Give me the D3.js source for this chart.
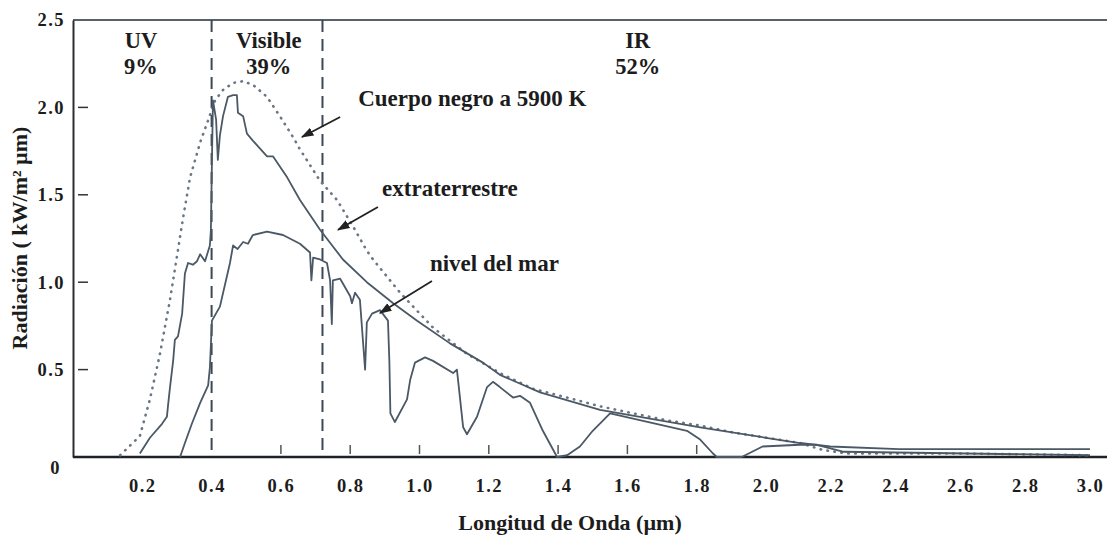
<!DOCTYPE html>
<html>
<head>
<meta charset="utf-8">
<script src="https://cdn.jsdelivr.net/npm/d3@7"></script>
<style>
  body { margin: 0; background: #fff; }
  svg text { font-family: "Liberation Serif", "Times New Roman", serif; font-weight: bold; fill: #1c1c1c; }
  .tick-lab { font-size: 18.5px; letter-spacing: 1.5px; }
</style>
</head>
<body>
<div class="js-chart"></div>
<script>
// Tick values
const xTicks = [0.2, 0.4, 0.6, 0.8, 1.0, 1.2, 1.4, 1.6, 1.8, 2.0, 2.2, 2.4, 2.6, 2.8, 3.0];
const xInnerTicks = [0.6, 0.8, 1.0, 1.2, 1.4, 1.6, 1.8];
const yTicks = [0, 0.5, 1.0, 1.5, 2.0, 2.5];

// Boundaries UV / Visible / IR (um)
const bandLimits = [0.4, 0.72];

// Cuerpo negro a 5900 K
const bbWave = [0.136, 0.193, 0.222, 0.251, 0.280, 0.297, 0.317, 0.338, 0.367, 0.387, 0.410, 0.433, 0.462, 0.490, 0.519, 0.560, 0.597, 0.635, 0.655, 0.713, 0.762, 0.808, 0.848, 0.866, 0.944, 1.039, 1.137, 1.232, 1.328, 1.426, 1.521, 1.616, 1.714, 1.810, 1.905, 2.003, 2.105, 2.176, 2.25, 2.6, 3.0];
const bbRad  = [0.01, 0.12, 0.33, 0.59, 0.90, 1.11, 1.36, 1.60, 1.80, 1.91, 2.04, 2.10, 2.14, 2.15, 2.13, 2.06, 1.95, 1.83, 1.76, 1.58, 1.47, 1.32, 1.18, 1.13, 0.94, 0.74, 0.59, 0.48, 0.39, 0.34, 0.29, 0.25, 0.21, 0.18, 0.14, 0.11, 0.08, 0.04, 0.02, 0.02, 0.01];

// extraterrestre
const extWave = [0.193, 0.222, 0.257, 0.271, 0.274, 0.280, 0.289, 0.294, 0.303, 0.315, 0.323, 0.332, 0.346, 0.358, 0.367, 0.381, 0.395, 0.398, 0.401, 0.404, 0.413, 0.418, 0.424, 0.433, 0.447, 0.462, 0.473, 0.476, 0.491, 0.502, 0.519, 0.560, 0.577, 0.618, 0.655, 0.713, 0.779, 0.848, 0.924, 0.993, 1.088, 1.183, 1.232, 1.348, 1.521, 1.665, 1.810, 2.0, 2.105, 2.198, 2.41, 3.0];
const extRad  = [0.02, 0.11, 0.19, 0.23, 0.29, 0.40, 0.55, 0.67, 0.69, 0.82, 1.05, 1.11, 1.10, 1.12, 1.16, 1.12, 1.21, 1.30, 1.70, 2.04, 1.93, 1.70, 1.84, 1.95, 2.06, 2.07, 2.07, 1.97, 1.95, 1.85, 1.81, 1.72, 1.72, 1.60, 1.47, 1.30, 1.13, 1.00, 0.88, 0.78, 0.65, 0.54, 0.47, 0.37, 0.27, 0.22, 0.17, 0.11, 0.08, 0.06, 0.045, 0.045];

// nivel del mar
const seaWave = [0.309, 0.323, 0.343, 0.367, 0.390, 0.395, 0.401, 0.424, 0.453, 0.462, 0.475, 0.491, 0.505, 0.519, 0.560, 0.606, 0.655, 0.684, 0.688, 0.693, 0.713, 0.733, 0.742, 0.747, 0.750, 0.771, 0.800, 0.805, 0.814, 0.828, 0.843, 0.848, 0.863, 0.886, 0.909, 0.913, 0.916, 0.929, 0.964, 0.973, 0.987, 1.016, 1.039, 1.097, 1.108, 1.126, 1.137, 1.166, 1.195, 1.212, 1.232, 1.270, 1.290, 1.319, 1.356, 1.397, 1.426, 1.463, 1.500, 1.550, 1.772, 1.810, 1.847, 1.858, 1.930, 1.990, 2.105, 2.157, 2.240, 2.620, 3.0];
const seaRad  = [0, 0.08, 0.19, 0.31, 0.41, 0.51, 0.78, 0.86, 1.11, 1.21, 1.19, 1.23, 1.22, 1.27, 1.29, 1.27, 1.22, 1.17, 1.01, 1.14, 1.13, 1.11, 1.01, 0.76, 1.01, 1.02, 0.92, 0.88, 0.94, 0.90, 0.50, 0.77, 0.82, 0.84, 0.78, 0.55, 0.25, 0.20, 0.33, 0.44, 0.54, 0.57, 0.55, 0.48, 0.50, 0.17, 0.13, 0.23, 0.40, 0.43, 0.40, 0.34, 0.35, 0.31, 0.15, 0, 0.01, 0.06, 0.15, 0.25, 0.15, 0.10, 0.02, 0, 0, 0.06, 0.07, 0.07, 0.03, 0.02, 0.01];

// Labels
const bandNames = ['UV', 'Visible', 'IR'];
const bandShares = ['9%', '39%', '52%'];
const bandCenters = [0.196, 0.565, 1.63];
const curveNames = ['Cuerpo negro a 5900 K', 'extraterrestre', 'nivel del mar'];
const curveLabelAt = [[0.823, 2.008], [0.892, 1.493], [1.030, 1.064]];
const arrowFrom = [[0.771, 1.945], [0.880, 1.43], [1.036, 1.007]];
const arrowTo   = [[0.661, 1.831], [0.765, 1.30], [0.886, 0.824]];

const WIDTH = 1107, HEIGHT = 544;

const svg = d3.select('.js-chart').append('svg')
  .attr('width', WIDTH).attr('height', HEIGHT);

// scanned figure is slightly compressed beyond 2.0
const xScale = d3.scaleLinear().domain([0, 2, 3]).range([73, 766, 1090]);
const yScale = d3.scaleLinear().domain([0, 2.5]).range([457, 20]);

svg.append('defs').append('marker')
  .attr('id', 'arrow').attr('viewBox', '0 0 10 10')
  .attr('refX', 9).attr('refY', 5)
  .attr('markerWidth', 7).attr('markerHeight', 7)
  .attr('orient', 'auto')
  .append('path').attr('d', 'M0,1.5 L10,5 L0,8.5 Z').attr('fill', '#222');

// frame: top line and left axis
svg.append('line')
  .attr('x1', xScale(0)).attr('x2', WIDTH)
  .attr('y1', yScale(2.5)).attr('y2', yScale(2.5))
  .attr('stroke', '#56616c').attr('stroke-width', 2);

const yAxis = d3.axisLeft(yScale).tickValues(yTicks)
  .tickSize(0).tickPadding(8)
  .tickFormat(d => d === 0 ? '0' : d3.format('.1f')(d));
const gy = svg.append('g').attr('transform', `translate(${xScale(0)},0)`).call(yAxis);
gy.select('.domain').attr('stroke', '#2b2f33').attr('stroke-width', 2);
gy.selectAll('text').attr('class', 'tick-lab').attr('fill', '#1c1c1c')
  .attr('dy', d => d === 0 ? '0.9em' : '0.32em')
  .attr('x', d => d === 0 ? -12 : -8);

// inner y tick marks
svg.append('g').selectAll('line')
  .data(yTicks.filter(d => d > 0 && d < 2.5))
  .join('line')
  .attr('x1', xScale(0) + 5).attr('x2', xScale(0) + 15)
  .attr('y1', d => yScale(d)).attr('y2', d => yScale(d))
  .attr('stroke', '#333').attr('stroke-width', 1.5);

// x axis
const xAxis = d3.axisBottom(xScale).tickValues(xTicks)
  .tickSize(0).tickPadding(22)
  .tickFormat(d3.format('.1f'));
const gx = svg.append('g').attr('transform', `translate(0,${yScale(0)})`).call(xAxis);
gx.select('.domain').remove();
gx.selectAll('text').attr('class', 'tick-lab').attr('fill', '#1c1c1c');

svg.append('line')
  .attr('x1', xScale(0)).attr('x2', WIDTH)
  .attr('y1', yScale(0)).attr('y2', yScale(0))
  .attr('stroke', '#1e2226').attr('stroke-width', 2.5);

svg.append('g').selectAll('line')
  .data(xInnerTicks)
  .join('line')
  .attr('x1', d => xScale(d)).attr('x2', d => xScale(d))
  .attr('y1', yScale(0) - 3).attr('y2', yScale(0) - 12)
  .attr('stroke', '#555').attr('stroke-width', 1.5);

// band limits
svg.append('g').selectAll('line')
  .data(bandLimits)
  .join('line')
  .attr('x1', d => xScale(d)).attr('x2', d => xScale(d))
  .attr('y1', yScale(2.5)).attr('y2', yScale(0))
  .attr('stroke', '#3c4856').attr('stroke-width', 2)
  .attr('stroke-dasharray', '12,7');

// curves
const line = d3.line()
  .x(d => xScale(d[0]))
  .y(d => yScale(d[1]));

svg.append('path')
  .datum(bbWave.map((w, i) => [w, bbRad[i]]))
  .attr('d', line).attr('fill', 'none')
  .attr('stroke', '#6b7683').attr('stroke-width', 2.6)
  .attr('stroke-linecap', 'round')
  .attr('stroke-dasharray', '0.5,6.5');

svg.append('path')
  .datum(extWave.map((w, i) => [w, extRad[i]]))
  .attr('d', line).attr('fill', 'none')
  .attr('stroke', '#4b5866').attr('stroke-width', 1.8)
  .attr('stroke-linejoin', 'round');

svg.append('path')
  .datum(seaWave.map((w, i) => [w, seaRad[i]]))
  .attr('d', line).attr('fill', 'none')
  .attr('stroke', '#4b5866').attr('stroke-width', 1.8)
  .attr('stroke-linejoin', 'round');

// band labels
bandNames.forEach((name, i) => {
  svg.append('text')
    .attr('x', xScale(bandCenters[i])).attr('y', yScale(2.34))
    .attr('text-anchor', 'middle').attr('font-size', 22.5)
    .text(name);
  svg.append('text')
    .attr('x', xScale(bandCenters[i])).attr('y', yScale(2.19))
    .attr('text-anchor', 'middle').attr('font-size', 22.5)
    .text(bandShares[i]);
});

// curve labels and arrows
curveNames.forEach((name, i) => {
  svg.append('text')
    .attr('x', xScale(curveLabelAt[i][0])).attr('y', yScale(curveLabelAt[i][1]))
    .attr('font-size', 23)
    .text(name);
  svg.append('line')
    .attr('x1', xScale(arrowFrom[i][0])).attr('y1', yScale(arrowFrom[i][1]))
    .attr('x2', xScale(arrowTo[i][0])).attr('y2', yScale(arrowTo[i][1]))
    .attr('stroke', '#222').attr('stroke-width', 1.8)
    .attr('marker-end', 'url(#arrow)');
});

// axis titles
svg.append('text')
  .attr('x', 570).attr('y', 530)
  .attr('text-anchor', 'middle').attr('font-size', 22)
  .text('Longitud de Onda (µm)');

svg.append('text')
  .attr('transform', 'translate(27,238) rotate(-90)')
  .attr('text-anchor', 'middle').attr('font-size', 22)
  .text('Radiación ( kW/m² µm)');
</script>
</body>
</html>
